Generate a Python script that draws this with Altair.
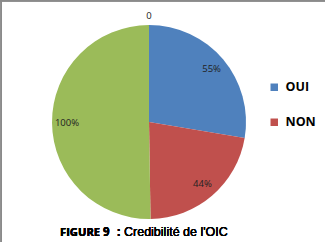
import altair as alt
import pandas as pd

categories = ["OUI", "NON", "Total", "Autre"]
values = [55, 44, 100, 0]
colors = ["#4F81BD", "#C0504D", "#9BBB59", "#8064A2"]
legend_items = ["OUI", "NON"]

df = pd.DataFrame({"cat": categories, "v": values, "i": list(range(len(categories)))})

W, H = 325, 242
CX, CY, R = 149, 122, 97
FONT = "Open Sans"

color = alt.Color(
    "cat:N",
    scale=alt.Scale(domain=categories, range=colors),
    sort=categories,
    legend=alt.Legend(
        values=legend_items, title=None, orient="none", legendX=268, legendY=81,
        symbolType="square", symbolSize=56, symbolStrokeWidth=0,
        labelFont=FONT, labelFontWeight="bold", labelFontSize=12.5, labelColor="#000000",
        rowPadding=22, labelOffset=5,
    ),
)

base = alt.Chart(df)

pie = base.mark_arc(stroke=None).encode(
    theta=alt.Theta("v:Q", stack=True),
    order=alt.Order("i:Q"),
    color=color,
    x=alt.value(CX), y=alt.value(CY), radius=alt.value(R),
)

labels = base.transform_calculate(
    lab="datum.v > 0 ? datum.v + '%' : '0'",
    lr="datum.v > 0 ? 82 : 106",
).mark_text(font=FONT, fontSize=9.5, color="#222222", baseline="middle").encode(
    theta=alt.Theta("v:Q", stack=True),
    order=alt.Order("i:Q"),
    radius=alt.Radius("lr:Q", scale=None),
    text="lab:N",
    x=alt.value(CX), y=alt.value(CY),
)

def txt(s, x, weight, font, size):
    return base.mark_text(font=font, fontSize=size, fontWeight=weight, align="left",
                          baseline="alphabetic", color="#000000").encode(
        x=alt.value(x), y=alt.value(236), text=alt.value(s))

title_parts = [
    txt("FIGURE", 60, "bold", FONT, 11.2),
    txt("9", 103, "bold", FONT, 11.5),
    txt(":", 117, "bold", FONT, 12),
    txt("Credibilité de l'OIC", 124, "normal", "Liberation Sans", 12.5),
]

top_line = base.mark_rule(color="#8a8a8a", strokeWidth=1.5).encode(
    x=alt.value(0), x2=alt.value(W), y=alt.value(0.75))
left_line = base.mark_rule(color="#8a8a8a", strokeWidth=1.5).encode(
    x=alt.value(1.25), y=alt.value(0), y2=alt.value(H))

chart = alt.layer(pie, labels, *title_parts, top_line, left_line).properties(
    width=W, height=H, padding=0, autosize="none", background="white"
).configure_view(stroke=None)

chart.save("out.html", embed_options={"renderer": "svg", "actions": False})
